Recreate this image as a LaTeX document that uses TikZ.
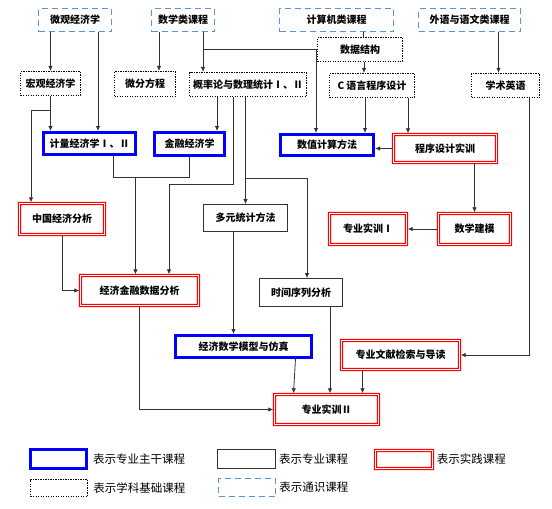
\documentclass[tikz,border=0pt]{standalone}
\usepackage{fontspec}
\setmainfont{Noto Sans CJK SC}
\usetikzlibrary{arrows.meta, calc, positioning}
\definecolor{zg}{RGB}{0,0,255}
\definecolor{tsh}{RGB}{90,145,215}
\definecolor{sj}{RGB}{255,0,0}
\definecolor{lc}{HTML}{333333}

\begin{document}
\begin{tikzpicture}[x=1pt, y=-1pt, >={Latex[length=5pt,width=4.5pt]},
	box/.style={inner sep=0pt, font=\fontsize{10}{12}\selectfont\bfseries},
	sz/.style 2 args={minimum width=#1pt, minimum height=#2pt},
	tsbox/.style={box, draw=tsh, line width=1.2pt, dash pattern=on 6pt off 4pt},
	jcbox/.style={box, draw=black, line width=1.1pt, dash pattern=on 1.2pt off 1.3pt},
	zgbox/.style={box, draw=zg, line width=3pt},
	zybox/.style={box, draw=lc, line width=0.8pt},
	sjbox/.style={box},
	lnk/.style={draw=lc, line width=0.8pt},
	arr/.style={lnk, ->},
	legtxt/.style={inner sep=0pt, font=\fontsize{11.5}{13}\selectfont}
	]

	\fill[white] (0,0) rectangle (552,509);
	\useasboundingbox (0,0) rectangle (552,509);

	% general courses
	\node[tsbox, sz={73}{23}] (wgjj) at (75,20) {微观经济学};
	\node[tsbox, sz={63}{23}] (sxl) at (183,20) {数学类课程};
	\node[tsbox, sz={114}{23}] (jsj) at (336.5,20) {计算机类课程};
	\node[tsbox, sz={102}{23}] (wy) at (469.5,20) {外语与语文类课程};

	% basic courses
	\node[jcbox, sz={85}{24}] (sjjg) at (360,49.5) {数据结构};
	\node[jcbox, sz={60}{24}] (hgjj) at (50.5,83.5) {宏观经济学};
	\node[jcbox, sz={61}{25}] (wffc) at (145,84) {微分方程};
	\node[jcbox, sz={117}{24}] (gll) at (248,84.5) {概率论与数理统计Ⅰ、Ⅱ};
	\node[jcbox, sz={85}{24}] (cyy) at (372,85.5) {C 语言程序设计};
	\node[jcbox, sz={68}{24}] (xsyy) at (505.5,85.5) {学术英语};

	% main courses
	\node[zgbox, sz={92}{22}] (jljj) at (89.5,143.5) {计量经济学Ⅰ、Ⅱ};
	\node[zgbox, sz={70}{23}] (jrjj) at (189.5,144) {金融经济学};
	\node[zgbox, sz={93}{21}] (szjs) at (327,145) {数值计算方法};
	\node[zgbox, sz={136}{22}] (jjsx) at (243.5,346.5) {经济数学模型与仿真};

	% practice
	\node[sjbox, sz={105}{30}] (cxsx) at (445,148.5) {程序设计实训};
	\node[sjbox, sz={87}{33}] (zgjj) at (62,219) {中国经济分析};
	\node[sjbox, sz={120}{32}] (jjjr) at (139.5,290.5) {经济金融数据分析};
	\node[sjbox, sz={79}{33}] (zysx1) at (368,229) {专业实训Ⅰ};
	\node[sjbox, sz={74}{33}] (sxjm) at (474.5,229) {数学建模};
	\node[sjbox, sz={120}{31}] (wxjs) at (400.5,355) {专业文献检索与导读};
	\node[sjbox, sz={106}{32}] (zysx2) at (326.5,409.5) {专业实训Ⅱ};

	% specialty
	\node[zybox, sz={84}{27}] (dytj) at (245.5,218) {多元统计方法};
	\node[zybox, sz={83}{28}] (sjxl) at (301,292.5) {时间序列分析};

	% links
	\draw[arr] (wgjj.south -| hgjj.north) -- (hgjj.north);
	\draw[arr] ([xshift=23pt]wgjj.south) -- ([xshift=23pt]wgjj.south |- jljj.north);
	\draw[arr] ([xshift=-24pt]sxl.south) -- ([xshift=-24pt]sxl.south |- wffc.north);
	\draw[arr] ([xshift=20pt]sxl.south) -- ([xshift=20pt]sxl.south |- gll.north);
	\draw[arr] ([xshift=20pt]sxl.south) |- ([xshift=-11pt]szjs.north |- sjjg.west) -- ([xshift=-11pt]szjs.north);
	\draw[lnk] ([xshift=3pt]sjjg.north |- jsj.south) -- ([xshift=3pt]sjjg.north);
	\draw[arr] ([xshift=4pt]sjjg.south) -- ([xshift=4pt]sjjg.south |- cyy.north);
	\draw[arr] ([xshift=-7pt]cyy.south) -- ([xshift=-7pt]cyy.south |- szjs.north);
	\draw[arr] ([xshift=36pt]cyy.south) -- ([xshift=36pt]cyy.south |- cxsx.north);
	\draw[arr] (cxsx.west) -- (szjs.east |- cxsx.west);
	\draw[arr] ([xshift=-7pt]xsyy.north |- wy.south) -- ([xshift=-7pt]xsyy.north);
	\draw[arr] ([xshift=24pt]xsyy.south) |- (wxjs.east);

	\draw[arr] (hgjj.south) -- (hgjj.south |- jljj.north);
	\draw[arr] ($(hgjj.south)!0.4!(hgjj.south |- jljj.north)$) -| ([xshift=-31pt]zgjj.north);
	\draw[lnk] ([xshift=23.5pt]jljj.south) -- ++(0,21) coordinate (j1) -| (jrjj.south);
	\draw[arr] ([xshift=-4pt]jjjr.north |- j1) -- ([xshift=-4pt]jjjr.north);
	\draw[arr] ([xshift=-31pt]gll.south) -- ([xshift=-31pt]gll.south |- jrjj.north);
	\draw[arr] ([xshift=-15pt]gll.south) -- ++(0,87) -| ([xshift=29.5pt]jjjr.north);
	\draw[arr] (gll.south -| dytj.north) -- (dytj.north);
	\path (gll.south -| dytj.north) ++(0,81) coordinate (g1);
	\draw[arr] (g1) -| ([xshift=6pt]sjxl.north);

	\draw[arr] (cxsx.south -| sxjm.north) -- (sxjm.north);
	\draw[arr] (sxjm.west) -- (zysx1.east);
	\draw[arr] (zgjj.south) |- (jjjr.west);
	\draw[arr] ([xshift=-12pt]dytj.south) -- ([xshift=-12pt]dytj.south |- jjsx.north);
	\draw[arr] (jjjr.south) |- (zysx2.west);
	\draw[arr] ([xshift=52pt]jjsx.south) -- ([xshift=-33pt]zysx2.north);
	\draw[arr] ([xshift=29pt]sjxl.south) -- ([xshift=29pt]sjxl.south |- zysx2.north);
	\draw[arr] ([xshift=-38pt]wxjs.south) -- ([xshift=36pt]zysx2.north);

	% legend
	\node[zgbox, sz={56}{19}] (lgzg) at (58.5,459) {};
	\node[legtxt, right=5pt of lgzg] (tzg) {表示专业主干课程};
	\node[jcbox, sz={57}{17}] (lgjc) at (59,488) {};
	\node[legtxt, right=5pt of lgjc] (tjc) {表示学科基础课程};
	\node[zybox, sz={58}{19}] (lgzy) at (246.5,459) {};
	\node[legtxt, right=3pt of lgzy] (tzy) {表示专业课程};
	\node[tsbox, sz={57}{18}] (lgts) at (247,487.5) {};
	\node[legtxt, right=3pt of lgts] (tts) {表示通识课程};
	\node[sjbox, sz={59}{20}] (lgsj) at (404,459.5) {};
	\node[legtxt, right=3pt of lgsj] (tsj) {表示实践课程};

	% double red frame of the practice boxes
	\foreach \n in {cxsx, zgjj, jjjr, zysx1, sxjm, wxjs, zysx2, lgsj} {
		\fill[sj, even odd rule]
			([shift={(-0.5pt,0.5pt)}]\n.north west) rectangle ([shift={(0.5pt,-0.5pt)}]\n.south east)
			([shift={(0.5pt,-0.5pt)}]\n.north west) rectangle ([shift={(-0.5pt,0.5pt)}]\n.south east)
			([shift={(1.8pt,-1.8pt)}]\n.north west) rectangle ([shift={(-1.8pt,1.8pt)}]\n.south east)
			([shift={(2.8pt,-2.8pt)}]\n.north west) rectangle ([shift={(-2.8pt,2.8pt)}]\n.south east);
	}

\end{tikzpicture}
\end{document}
